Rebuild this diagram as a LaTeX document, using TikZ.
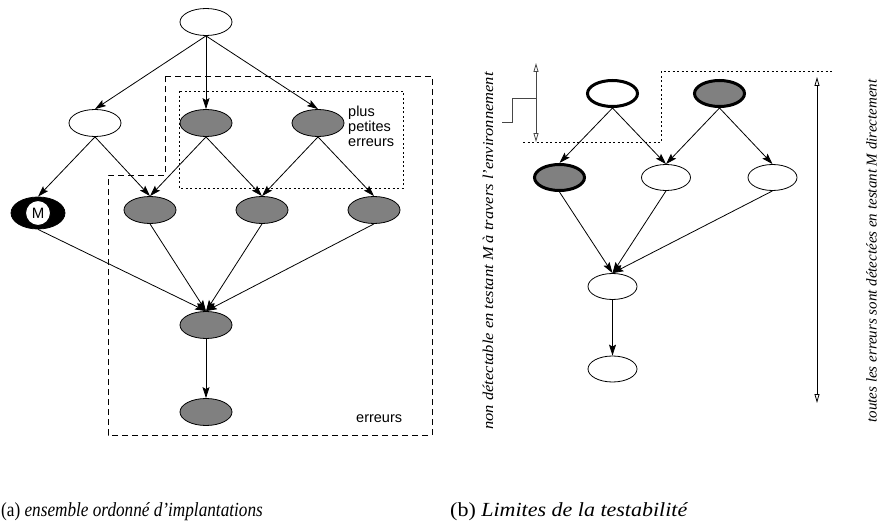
\documentclass[tikz,border=0pt]{standalone}
\usepackage{fontspec}
\setmainfont{Liberation Serif}
\newfontfamily\labelfont{Liberation Sans}
\usetikzlibrary{shapes.geometric,arrows.meta}
\definecolor{nodegray}{RGB}{128,128,128}
\definecolor{linegray}{RGB}{70,70,70}
\tikzset{
  ell/.style={ellipse, draw, line width=0.8pt, minimum width=52pt, minimum height=27pt, inner sep=0pt},
  gell/.style={ell, fill=nodegray},
  rell/.style={ell, minimum width=49pt, minimum height=26pt},
  tell/.style={ell, line width=3pt, minimum width=50pt, minimum height=26pt},
  arr/.style={-{Stealth[length=11pt,width=7pt,inset=2pt]}, line width=0.8pt},
  dbl/.style={{Triangle[open,length=9pt,width=5pt]}-{Triangle[open,length=9pt,width=5pt]}, line width=0.8pt},
  dashbox/.style={dash pattern=on 6pt off 4pt, line width=0.9pt},
  dotbox/.style={dash pattern=on 2pt off 2.5pt, line width=0.9pt},
  lbl/.style={font=\labelfont\fontsize{14.5}{15}\selectfont, inner sep=0pt},
  rot/.style={rotate=90, font=\itshape\fontsize{15}{17}\selectfont, inner sep=0pt},
  captext/.style={font=\fontsize{20}{22}\selectfont, inner sep=0pt}
}
\begin{document}
\begin{tikzpicture}[x=1pt,y=-1pt]
\useasboundingbox (0,0) rectangle (881,527);
% ---------- (a) ----------
\draw[dashbox] (165,76) -- (432,76) -- (432,435) -- (108,435) -- (108,175) -- (165,175) -- cycle;
\draw[dotbox] (179,91) rectangle (403,188);
\node[ell]  (a0) at (206,22) {};
\node[ell]  (a1) at (95,123) {};
\node[gell] (a2) at (206,123) {};
\node[gell] (a3) at (318,123) {};
\node[ell, fill=black, minimum width=54pt, minimum height=32pt] (m) at (38,213) {};
\node[circle, draw, fill=white, line width=1pt, minimum size=25pt, inner sep=0pt, font=\labelfont\fontsize{15}{15}\selectfont] (mc) at (38,213) {M};
\node[gell] (b1) at (150,210) {};
\node[gell] (b2) at (262,210) {};
\node[gell] (b3) at (374,210) {};
\node[gell] (c1) at (206,325) {};
\node[gell] (d1) at (206,412) {};
\draw[arr] (a0.south) -- (a1.north);
\draw[arr] (a0.south) -- (a2.north);
\draw[arr] (a0.south) -- (a3.north);
\draw[arr] (a1.south) -- (m.north);
\draw[arr] (a1.south) -- (b1.north);
\draw[arr] (a2.south) -- (b1.north);
\draw[arr] (a2.south) -- (b2.north);
\draw[arr] (a3.south) -- (b2.north);
\draw[arr] (a3.south) -- (b3.north);
\draw[arr] (m.south) -- (c1.north);
\draw[arr] (b1.south) -- (c1.north);
\draw[arr] (b2.south) -- (c1.north);
\draw[arr] (b3.south) -- (c1.north);
\draw[arr] (c1.south) -- (d1.north);
\node[lbl, anchor=north west, align=left] (lp) at (348,106) {plus\\petites\\erreurs};
\node[lbl, anchor=south west] (le) at (356,423) {erreurs};
% ---------- (b) ----------
\draw[dotbox] (523,142) -- (661,142) -- (661,71) -- (834,71);
\coordinate (s1) at (536,63);
\coordinate (s2) at (536,142);
\draw[dbl, draw=linegray] (s1) -- (s2);
\draw[linegray, line width=0.9pt] (502,122) -- (512,122) -- (512,98) -- (536,98);
\coordinate (l1) at (817,77);
\coordinate (l2) at (817,403);
\draw[dbl] (l1) -- (l2);
\node[tell] (r0) at (612.5,93.5) {};
\node[tell, fill=nodegray] (r1) at (719.5,93.5) {};
\node[tell, fill=nodegray] (q1) at (559.5,177.5) {};
\node[rell] (q2) at (666,177.5) {};
\node[rell] (q3) at (772.5,177.5) {};
\node[rell] (p1) at (612.5,286.5) {};
\node[rell] (p2) at (612.5,369) {};
\draw[arr] (r0.south) -- (q1.north);
\draw[arr] (r0.south) -- (q2.north);
\draw[arr] (r1.south) -- (q2.north);
\draw[arr] (r1.south) -- (q3.north);
\draw[arr] (q1.south) -- (p1.north);
\draw[arr] (q2.south) -- (p1.north);
\draw[arr] (q3.south) -- (p1.north);
\draw[arr] (p1.south) -- (p2.north);
\node[rot] (tl) at (488,251) {\scalebox{1.1}[1]{non détectable en testant M à travers l'environnement}};
\node[rot, anchor=south] (tr) at (877,251) {toutes les erreurs sont détectées en testant M directement};
% ---------- captions ----------
\node[captext, anchor=west] (ca) at (1,512) {\scalebox{0.86}[1]{(a) \textit{ensemble ordonné d'implantations}}};
\node[captext, anchor=west] (cb) at (450,512) {\scalebox{1.1}[1]{(b) \textit{Limites de la testabilité}}};
\end{tikzpicture}
\end{document}
